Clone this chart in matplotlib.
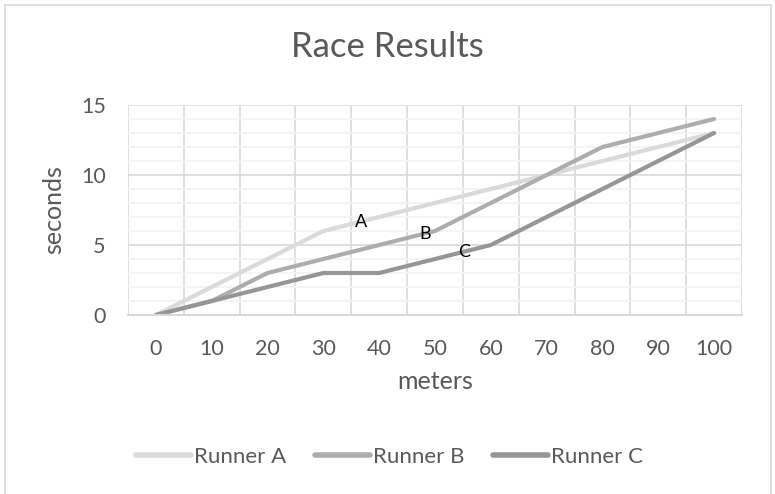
import numpy as np
import matplotlib
matplotlib.use("Agg")
from matplotlib import pyplot as plt
from matplotlib.patches import Rectangle

plt.rcParams['font.family'] = ['Lato', 'DejaVu Sans']

meters = ['0', '10', '20', '30', '40', '50', '60', '70', '80', '90', '100']
runner_a = [0, 2, 4, 6, 7, 8, 9, 10, 11, 12, 13]
runner_b = [0, 1, 3, 4, 5, 6, 8, 10, 12, 13, 14]
runner_c = [0, 1, 2, 3, 3, 4, 5, 7, 9, 11, 13]

# point labels (category index, value)
labels = [('A', 3.67, 6.64), ('B', 4.82, 5.79), ('C', 5.52, 4.5)]

txt = '#595959'
grid = '#d9d9d9'

fig = plt.figure(figsize=(7.75, 4.94), dpi=100)
fig.patches.append(Rectangle((5 / 775, -0.1), 766 / 775, 1.1 - 5 / 494,
                             transform=fig.transFigure, fill=False,
                             edgecolor=grid, linewidth=1.2))

ax = fig.add_axes([128 / 775, (494 - 315) / 494, 614 / 775, 210 / 494])

x = np.arange(len(meters))
ax.plot(x, runner_a, color='#dadada', lw=3, solid_capstyle='round', label='Runner A')
ax.plot(x, runner_b, color='#adadad', lw=3, solid_capstyle='round', label='Runner B')
ax.plot(x, runner_c, color='#969696', lw=3, solid_capstyle='round', label='Runner C')

for t, xi, yi in labels:
    ax.text(xi, yi, t, fontsize=13, color='black', ha='center', va='center')

ax.set_xlim(-0.5, len(meters) - 0.5)
ax.set_ylim(0, 15)
ax.set_yticks([0, 5, 10, 15])
ax.set_yticks(np.arange(0, 16, 1), minor=True)
ax.set_xticks(x)
ax.set_xticklabels(meters)
ax.set_xticks(np.arange(-0.5, len(meters), 1), minor=True)

ax.grid(which='minor', axis='y', color='#f2f2f2', lw=1.2, zorder=0)
ax.grid(which='major', axis='y', color=grid, lw=1.2, zorder=0)
ax.grid(which='minor', axis='x', color=grid, lw=1.2, zorder=0)
ax.set_axisbelow(True)

for s in ['top', 'right', 'left']:
    ax.spines[s].set_visible(False)
ax.spines['bottom'].set_color(grid)
ax.spines['bottom'].set_linewidth(1.5)
ax.tick_params(which='both', length=0, labelsize=15.5, colors=txt)
ax.tick_params(axis='x', pad=17)
ax.tick_params(axis='y', pad=16)

fig.text(0.5, 1 - 47 / 494, 'Race Results', fontsize=25, color=txt,
         ha='center', va='center')
ax.set_xlabel('meters', fontsize=18, color=txt, labelpad=8)
ax.set_ylabel('seconds', fontsize=18, color=txt)
ax.yaxis.set_label_coords(-0.103, 0.5)

leg = fig.legend(loc='center', bbox_to_anchor=(0.503, (494 - 457) / 494), ncol=3,
                 frameon=False, fontsize=16, handlelength=2.45, handletextpad=0.15,
                 columnspacing=1.3)
for t in leg.get_texts():
    t.set_color(txt)
for h in leg.get_lines():
    h.set_linewidth(4)

plt.savefig('out.png', dpi=100)
